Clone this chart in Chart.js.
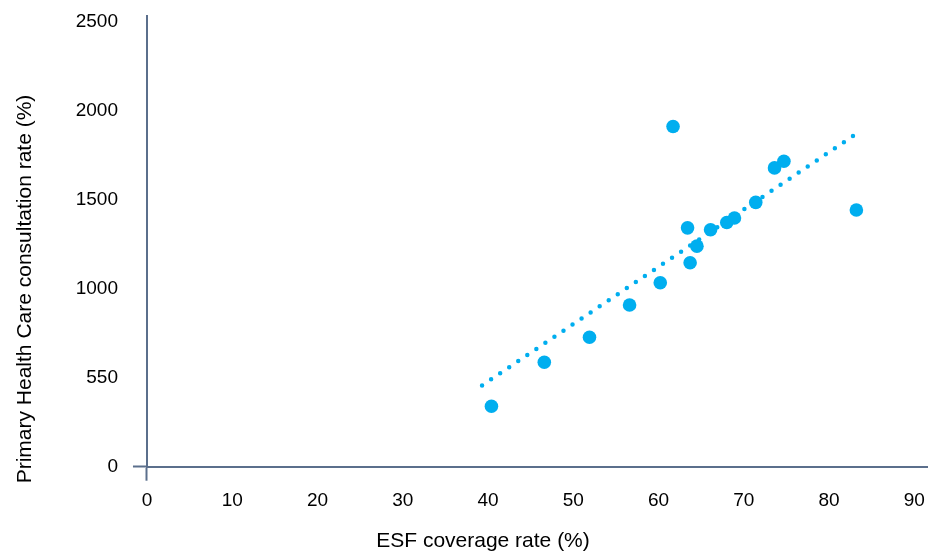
<!DOCTYPE html>
<html>
<head>
<meta charset="utf-8">
<script src="https://cdn.jsdelivr.net/npm/chart.js@4/dist/chart.umd.min.js"></script>
<style>
    html, body { margin: 0; padding: 0; background: #fff; }
    #wrap { width: 928px; height: 552px; }
</style>
</head>
<body>
<div id="wrap"><canvas id="myChart" width="928" height="552"></canvas></div>
<script>
// ESF coverage (%) vs Primary Health Care consultation rate
var esfCoverage = [40.4, 46.6, 51.9, 56.6, 60.2, 61.7, 63.4, 63.7, 64.5, 66.1, 68.0, 68.9, 71.4, 73.6, 74.7, 83.2];
var consultRate = [340, 587, 728, 909, 1034, 1913, 1343, 1147, 1240, 1332, 1373, 1398, 1486, 1680, 1717, 1443];

// linear trend line end points
var trendX = [39.3, 83.3];
var trendY = [457, 1875];

var xTicks = [0, 10, 20, 30, 40, 50, 60, 70, 80, 90];
var yTicks = [0, 500, 1000, 1500, 2000, 2500];
var yTickLabels = ["0", "550", "1000", "1500", "2000", "2500"];

var xTitle = "ESF coverage rate (%)";
var yTitle = "Primary Health Care consultation rate (%)";

var blue = "#00aeef";
var axisColor = "#5b6f8c";
var font = "'Liberation Sans', Arial, sans-serif";

function toPoints(xs, ys) {
    return xs.map(function (x, i) {
        return { x: x, y: ys[i] };
    });
}

function zeroOnly(ctx) {
    return ctx.tick && ctx.tick.value === 0 ? axisColor : "rgba(0,0,0,0)";
}

// don't let edge labels push the plot area in
function noEdgePadding(scale) {
    scale.paddingTop = 0;
    scale.paddingBottom = 0;
    scale.paddingLeft = 0;
    scale.paddingRight = 0;
}

// axis titles placed like the original (not centred on the plot area)
var axisTitles = {
    id: "axisTitles",
    afterDraw: function (chart) {
        var c = chart.ctx;
        c.save();
        c.fillStyle = "#000";
        c.font = "21px " + font;
        c.textAlign = "center";
        c.textBaseline = "middle";
        c.fillText(xTitle, 483, 541);
        c.translate(25, 289);
        c.rotate(-Math.PI / 2);
        c.fillText(yTitle, 0, 0);
        c.restore();
    }
};

var ctx = document.getElementById("myChart");
var myChart = new Chart(ctx, {
    type: "scatter",
    data: {
        datasets: [
            {
                label: "Municipalities",
                data: toPoints(esfCoverage, consultRate),
                backgroundColor: blue,
                borderWidth: 0,
                pointRadius: 6.8,
                pointHoverRadius: 6.8,
                order: 0
            },
            {
                label: "Trend",
                data: toPoints(trendX, trendY),
                showLine: true,
                borderColor: blue,
                borderWidth: 4.5,
                borderDash: [0, 10.9],
                borderCapStyle: "round",
                pointRadius: 0,
                order: 1
            }
        ]
    },
    options: {
        responsive: false,
        animation: false,
        layout: {
            autoPadding: false,
            padding: { left: 60.7, right: 0, top: 16, bottom: 30.5 }
        },
        plugins: {
            legend: { display: false },
            tooltip: { enabled: false }
        },
        scales: {
            x: {
                type: "linear",
                min: 0,
                max: 91.6,
                afterBuildTicks: function (scale) {
                    scale.ticks = xTicks.map(function (v) { return { value: v }; });
                },
                afterFit: noEdgePadding,
                grid: {
                    drawOnChartArea: false,
                    drawTicks: true,
                    tickLength: 14,
                    color: zeroOnly,
                    tickColor: zeroOnly,
                    tickWidth: 2
                },
                border: { display: true, color: axisColor, width: 2 },
                ticks: {
                    padding: 9,
                    color: "#000",
                    font: { family: font, size: 19 },
                    maxRotation: 0
                }
            },
            y: {
                type: "linear",
                min: 0,
                max: 2534,
                afterBuildTicks: function (scale) {
                    scale.ticks = yTicks.map(function (v) { return { value: v }; });
                },
                afterFit: noEdgePadding,
                grid: {
                    drawOnChartArea: false,
                    drawTicks: true,
                    tickLength: 14,
                    color: zeroOnly,
                    tickColor: zeroOnly,
                    tickWidth: 2
                },
                border: { display: true, color: axisColor, width: 2 },
                ticks: {
                    padding: 15,
                    color: "#000",
                    font: { family: font, size: 19 },
                    callback: function (value, index) {
                        return yTickLabels[index];
                    }
                }
            }
        }
    },
    plugins: [axisTitles]
});
</script>
</body>
</html>
